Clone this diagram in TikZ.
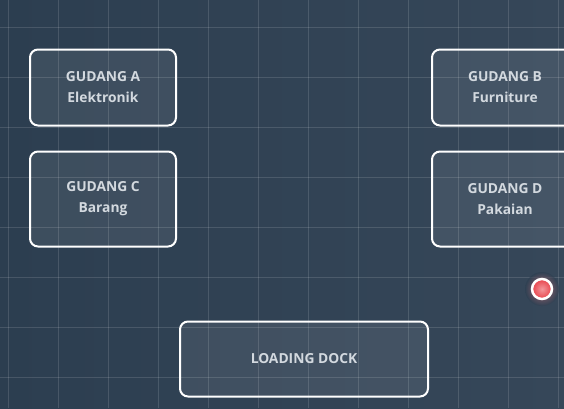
\documentclass[tikz,border=0pt]{standalone}
\usepackage{fontspec}
\setmainfont{Open Sans}
\usepackage{tikz}
\usetikzlibrary{positioning}

\definecolor{bgdark}{HTML}{2C3E50}
\definecolor{bglight}{HTML}{364759}
\definecolor{labeltext}{HTML}{D3D9DF}
\definecolor{alarmred}{HTML}{E8434B}

\begin{document}
\begin{tikzpicture}[
    x=1pt, y=-1pt,
    every node/.style={font=\fontsize{13.8}{21}\selectfont\bfseries, text=labeltext},
    gudang/.style={rectangle, draw=white, line width=2pt, rounded corners=8pt, fill=white, fill opacity=0.08, text opacity=1, minimum width=146pt, align=center},
    dock/.style={gudang, minimum width=248pt, minimum height=75pt},
    gridline/.style={white, opacity=0.13, line width=0.8pt}
]

% background and grid
\useasboundingbox (0,0) rectangle (564,408);
\clip (0,0) rectangle (564,408);
\shade[left color=bgdark, right color=bglight] (0,0) rectangle (564,408);
\foreach \gx in {8,58,...,558} {
    \draw[gridline] (\gx,0) -- (\gx,408);
}
\foreach \gy in {27,77,...,377} {
    \draw[gridline] (0,\gy) -- (564,\gy);
}

% warehouses
\node[gudang, minimum height=76pt] (gudangA) at (103,87.5) {GUDANG A\\Elektronik};
\node[gudang, minimum height=76pt] (gudangB) at (505,87.5) {GUDANG B\\Furniture};
\node[gudang, minimum height=95pt] (gudangC) at (103,199) {GUDANG C\\Barang};
\node[gudang, minimum height=95pt] (gudangD) at (505,199) {GUDANG D\\Pakaian};
\node[dock] (loadingdock) at (304,359) {LOADING DOCK};

% alarm marker
\shade[inner color=alarmred!70, outer color=bgdark, opacity=0.6] (542,289) circle (17pt);
\node[circle, draw=white, line width=2.5pt, inner color=alarmred!55!white, outer color=alarmred, minimum size=20pt, inner sep=0pt] (marker) at (542,289) {};

\end{tikzpicture}
\end{document}
